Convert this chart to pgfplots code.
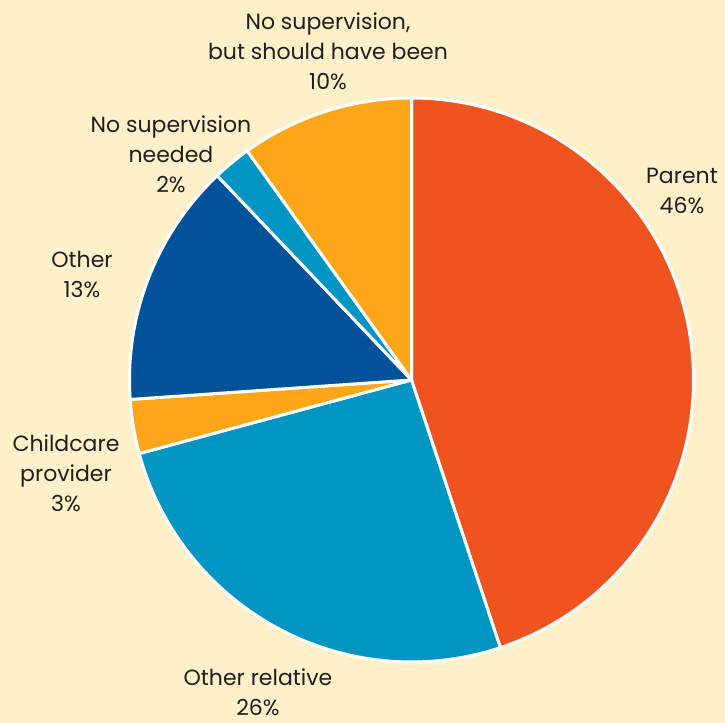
\documentclass[border=0pt]{standalone}
\usepackage{pgfplots}
\pgfplotsset{compat=1.18}
\usepackage{fontspec}
\setmainfont{Poppins}
\definecolor{bg}{HTML}{FEF0C8}
\definecolor{parent}{HTML}{F0541E}
\definecolor{orel}{HTML}{0095C2}
\definecolor{orng}{HTML}{FCA618}
\definecolor{dblue}{HTML}{00529A}
\definecolor{txt}{HTML}{231F20}
\begin{document}
\begin{tikzpicture}
\begin{axis}[
  width=362.5pt, height=361.5pt, scale only axis,
  xmin=0, xmax=725, ymin=0, ymax=723,
  hide axis, clip=false,
]
\fill[bg] (axis cs:0,0) rectangle (axis cs:725,723);
\foreach \v/\c [remember=\e as \s (initially 90)] in {44.9/parent, 25.9/orel, 3.1/orng, 14.0/dblue, 2.2/orel, 9.9/orng} {
  \pgfmathsetmacro\e{\s-\v*3.6}
  \edef\tmp{\noexpand\fill[\c, draw=white, line width=1.5pt, line join=round] (axis cs:411.5,343) -- ++(\s:141pt) arc[start angle=\s, end angle=\e, radius=141pt] -- cycle;}
  \tmp
}
\begin{scope}[every node/.style={align=center, text=txt, font=\fontsize{11pt}{15pt}\selectfont}]
\node at (axis cs:328,672) {No supervision,\\but should have been\\10\%};
\node at (axis cs:171,569) {No supervision\\needed\\2\%};
\node at (axis cs:82,449) {Other\\13\%};
\node at (axis cs:66,250) {Childcare\\provider\\3\%};
\node at (axis cs:258,31) {Other relative\\26\%};
\node at (axis cs:682,532) {Parent\\46\%};
\end{scope}
\end{axis}
\end{tikzpicture}
\end{document}
